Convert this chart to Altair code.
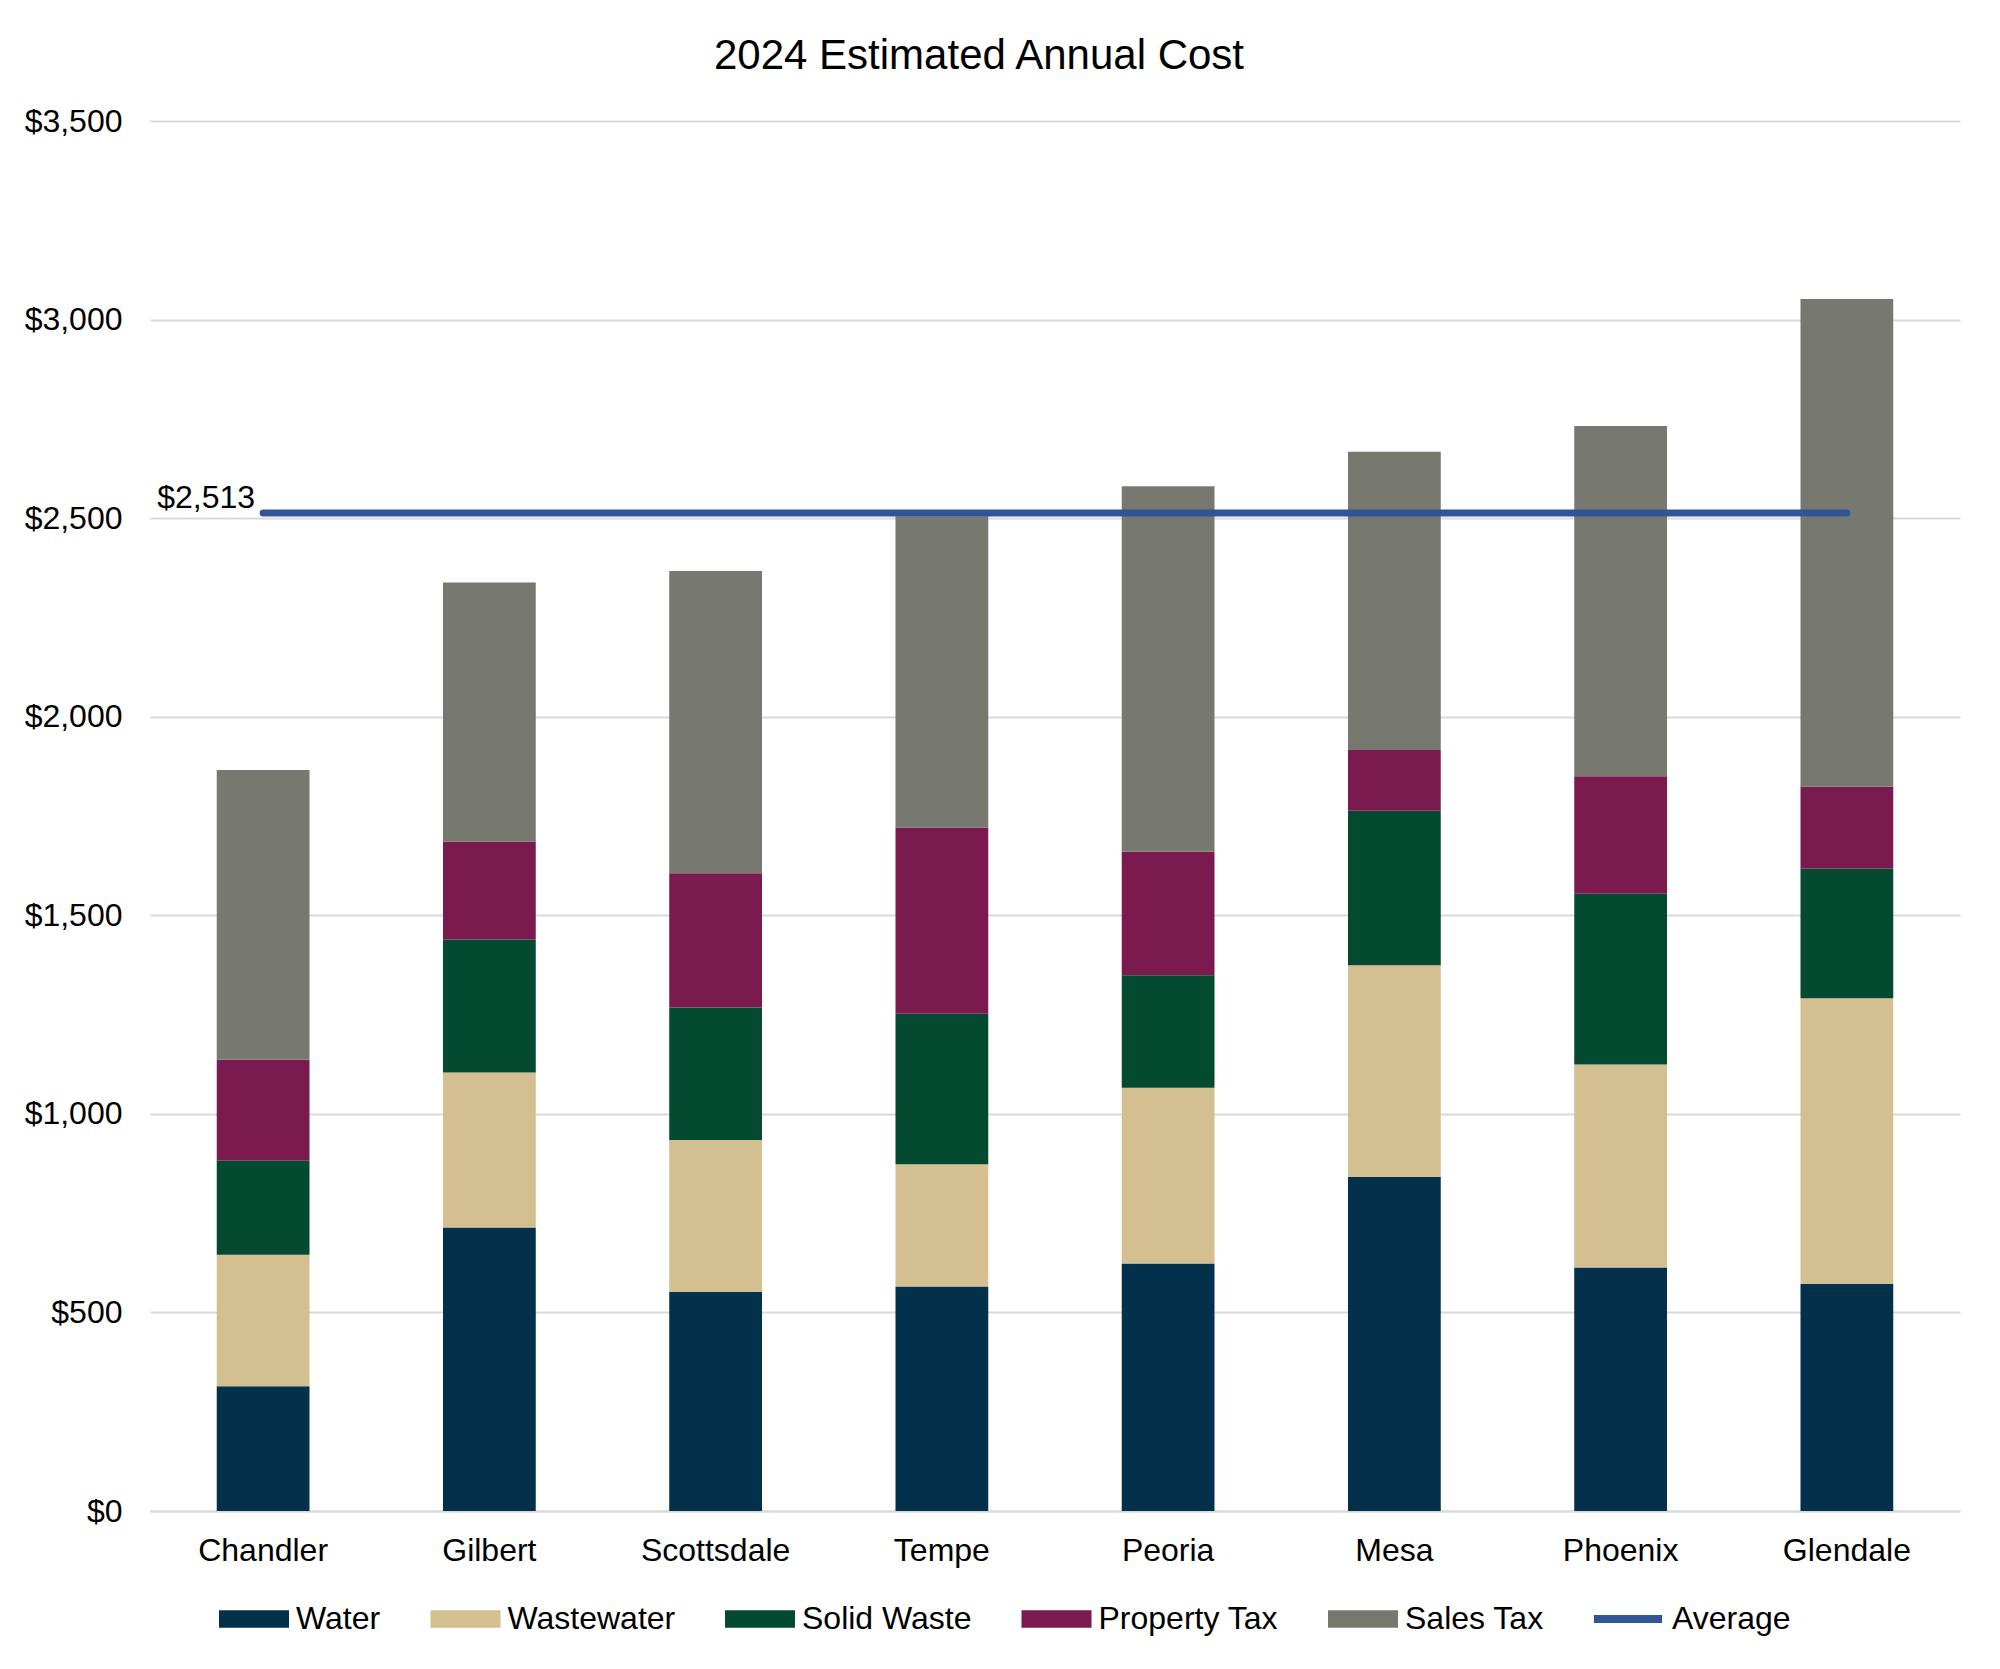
import altair as alt
import pandas as pd

# ---- data ----
cities = ["Chandler", "Gilbert", "Scottsdale", "Tempe", "Peoria", "Mesa", "Phoenix", "Glendale"]
categories = ["Water", "Wastewater", "Solid Waste", "Property Tax", "Sales Tax"]
water = [314, 714, 552, 565, 623, 841, 613, 572]
wastewater = [331, 390, 382, 308, 443, 533, 511, 719]
solid_waste = [237, 335, 334, 379, 283, 389, 430, 327]
property_tax = [254, 247, 338, 469, 311, 153, 296, 206]
sales_tax = [730, 652, 761, 784, 920, 751, 882, 1228]
average_name = "Average"
average_value = 2513
average_label = "$2,513"
bar_colors = ["#03304A", "#D3BF8F", "#034A30", "#7B1A4E", "#77786F"]
average_color = "#2F5597"

series = [water, wastewater, solid_waste, property_tax, sales_tax]
rows = []
for ci, city in enumerate(cities):
    for k, (cat, vals) in enumerate(zip(categories, series)):
        rows.append({"city": city, "category": cat, "order": k, "value": vals[ci]})
df = pd.DataFrame(rows)
avg_df = pd.DataFrame({"city": cities, "value": [average_value] * len(cities),
                       "series": [average_name] * len(cities)})
label_df = pd.DataFrame({"city": [cities[0]], "value": [average_value], "label": [average_label]})

FONT = "Liberation Sans"
FS = 32

x = alt.X(
    "city:N",
    sort=cities,
    scale=alt.Scale(paddingInner=0.59, paddingOuter=0.295),
    axis=alt.Axis(
        title=None, labelAngle=0, labelFontSize=FS, labelPadding=24, ticks=False,
        domainColor="#D9D9D9", domainWidth=2, grid=False, labelColor="black", labelFont=FONT,
    ),
)
yscale = alt.Scale(domain=[0, 3500], nice=False)
yaxis = alt.Axis(
    title=None, values=[0, 500, 1000, 1500, 2000, 2500, 3000, 3500], format="$,.0f",
    labelFontSize=FS, labelPadding=28, ticks=False, domain=False,
    gridColor="#D9D9D9", gridWidth=2, labelColor="black", labelFont=FONT,
)

bar_legend = alt.Legend(
    title=None, orient="none", legendX=69, legendY=1463, direction="horizontal",
    labelFontSize=FS, labelFont=FONT, labelColor="black", labelLimit=400,
    symbolSize=4900, symbolType="M-1,-0.25H1V0.25H-1Z", symbolStrokeWidth=0,
    columnPadding=49.5, labelOffset=7, padding=0,
)
line_legend = alt.Legend(
    title=None, orient="none", legendX=1440, legendY=1460, direction="horizontal",
    labelFontSize=FS, labelFont=FONT, labelColor="black", labelLimit=400,
    symbolSize=4624, symbolType="stroke", symbolStrokeWidth=8,
    labelOffset=6, padding=0,
)

bars = alt.Chart(df).mark_bar().encode(
    x=x,
    y=alt.Y("value:Q", stack="zero", scale=yscale, axis=yaxis),
    color=alt.Color("category:N", scale=alt.Scale(domain=categories, range=bar_colors), legend=bar_legend),
    order=alt.Order("order:Q", sort="ascending"),
)

line = alt.Chart(avg_df).mark_line(strokeWidth=7, strokeCap="round").encode(
    x=alt.X("city:N", sort=cities),
    y=alt.Y("value:Q", scale=yscale),
    color=alt.Color("series:N", scale=alt.Scale(domain=[average_name], range=[average_color]), legend=line_legend),
)

label = alt.Chart(label_df).mark_text(
    align="right", baseline="alphabetic", dx=-8, dy=-5, fontSize=FS, font=FONT, color="black"
).encode(
    x=alt.X("city:N", sort=cities),
    y=alt.Y("value:Q", scale=yscale),
    text="label:N",
)

chart = alt.layer(bars, line, label).resolve_scale(color="independent").properties(
    width=1810,
    height=1390,
    padding={"left": 150, "top": 121, "right": 40, "bottom": 158},
    autosize=alt.AutoSizeParams(type="none"),
    title=alt.TitleParams(
        "2024 Estimated Annual Cost", fontSize=42, font=FONT, fontWeight="normal",
        color="black", offset=27, dx=-76,
    ),
).configure(font=FONT).configure_view(stroke=None)

chart.save("out.html", embed_options={"renderer": "svg", "actions": False})
